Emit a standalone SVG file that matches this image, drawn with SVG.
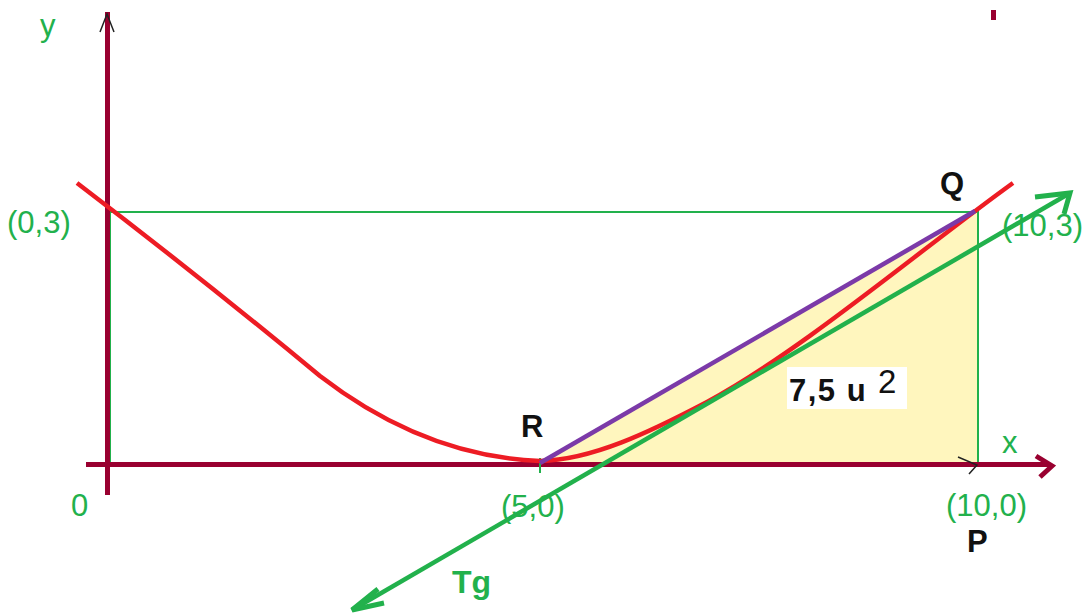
<svg xmlns="http://www.w3.org/2000/svg" width="1089" height="616" viewBox="0 0 1089 616">
<style>
.lbl{font-family:"Liberation Sans",Arial,sans-serif;font-size:31px;fill:#22b14c}
.pt{font-family:"Liberation Sans",Arial,sans-serif;font-size:31px;font-weight:bold;fill:#111}
.axis{stroke:#990030;stroke-width:5;fill:none}
.grid{stroke:#22b14c;stroke-width:2;fill:none}
</style>
<rect width="1089" height="616" fill="#fff"/>
<g id="area">
<polygon points="540,463 976,211 978,211 978,465" fill="#fff6be"/>
<rect x="787" y="367" width="120" height="42" fill="#fff"/>
</g>
<g id="frame">
<path class="grid" d="M110,212 L978,212 L978,466 M110,212 L110,466 L978,466"/>
</g>
<g id="axes">
<line class="axis" x1="107.5" y1="12" x2="107.5" y2="495"/>
<line class="axis" x1="86" y1="464.5" x2="1050" y2="464.5"/>
<path class="axis" d="M1036,456 L1052,466 L1040,477"/>
<path d="M100,32 L107,14 L114,32" stroke="#222" stroke-width="1.5" fill="none"/>
<path d="M958,457 L977,465 L969,474" stroke="#222" stroke-width="1.5" fill="none"/>
<rect x="991" y="10" width="5" height="10" fill="#990030"/>
<line x1="540" y1="458" x2="540" y2="473" stroke="#22b14c" stroke-width="2"/>
</g>
<g id="curve">
<path d="M77,183 C170,254 250,318 320,376 C390,430 465,458 540,461 C592,460 650,432 707,402 C800,352 920,250 1013,183" stroke="#ed1c24" stroke-width="4.5" fill="none"/>
</g>
<g id="chord">
<line x1="540" y1="463" x2="975" y2="211" stroke="#7b3aa8" stroke-width="4.5"/>
</g>
<g id="tangent">
<line x1="352" y1="610" x2="1070" y2="193" stroke="#22b14c" stroke-width="4.5"/>
<path d="M1035,197 L1070,193 L1064,214" stroke="#22b14c" stroke-width="5" fill="none"/>
<path d="M378,589 L352,610 L384,603" stroke="#22b14c" stroke-width="5" fill="none"/>
</g>
<g id="labels">
<text class="lbl" x="40" y="36">y</text>
<text class="lbl" x="7" y="233">(0,3)</text>
<text class="lbl" x="1002" y="236">(10,3)</text>
<text class="lbl" x="71" y="516">0</text>
<text class="lbl" x="501" y="517">(5,0)</text>
<text class="lbl" x="946" y="516">(10,0)</text>
<text class="lbl" x="1002" y="453">x</text>
<text class="pt" x="940" y="194">Q</text>
<text class="pt" x="521" y="437">R</text>
<text class="pt" x="967" y="552">P</text>
<text class="pt" x="452" y="593" style="fill:#22b14c;font-size:32px">Tg</text>
<text class="pt" x="789" y="401" style="letter-spacing:1.5px">7,5 u</text>
<text class="pt" x="878" y="393" style="font-weight:normal;font-size:33px">2</text>
</g>
</svg>
